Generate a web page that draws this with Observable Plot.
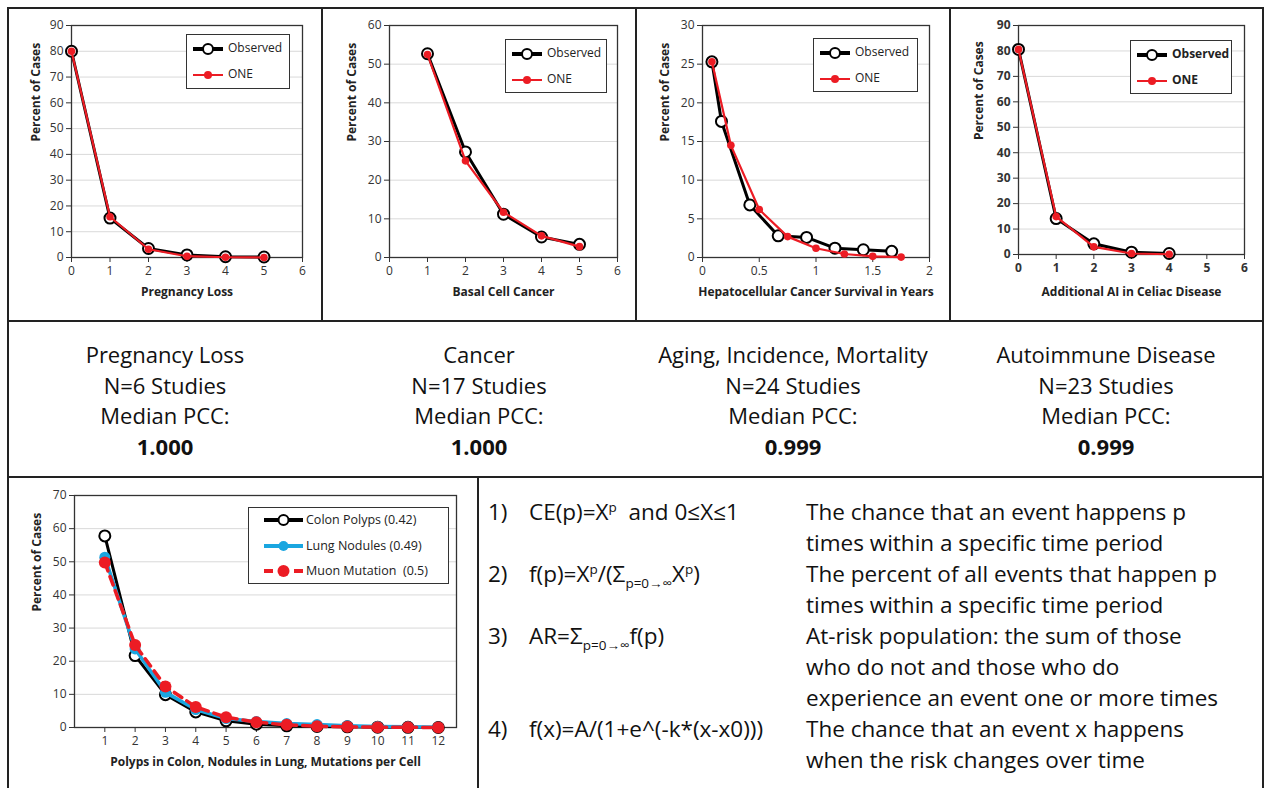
<!DOCTYPE html>
<html><head><meta charset="utf-8">
<script src="https://cdn.jsdelivr.net/npm/d3@7"></script>
<script src="https://cdn.jsdelivr.net/npm/@observablehq/plot@0.6"></script>
<style>
body{margin:0;background:#fff;}
#root{position:relative;width:1269px;height:788px;overflow:hidden;font-family:"Open Sans",sans-serif;color:#111;background:#fff;}
.leg{position:absolute;background:#fff;border:1.5px solid #333;box-sizing:border-box;}
.legrow{position:absolute;left:0;white-space:pre;color:#222;}
sup,sub{font-size:0.6em;line-height:0;}
</style></head><body><div id="root"></div>
<script>
// ---------- data ----------
const legendTopNames = ["Observed", "ONE"];
const pregX = [0, 1, 2, 3, 4, 5];
const pregObserved = [80, 15.3, 3.5, 1.0, 0.3, 0.2];
const pregONE = [80, 15.8, 3.2, 0.5, 0.1, 0.0];
const basalX = [1, 2, 3, 4, 5];
const basalObserved = [52.7, 27.3, 11.2, 5.3, 3.4];
const basalONE = [52.5, 25.0, 11.7, 5.6, 2.8];
const hccObsX = [0.083, 0.167, 0.417, 0.667, 0.917, 1.167, 1.417, 1.667];
const hccObserved = [25.3, 17.6, 6.8, 2.8, 2.6, 1.2, 1.0, 0.8];
const hccOneX = [0.083, 0.25, 0.5, 0.75, 1.0, 1.25, 1.5, 1.75];
const hccONE = [25.3, 14.5, 6.2, 2.7, 1.2, 0.45, 0.15, 0.05];
const celiacX = [0, 1, 2, 3, 4];
const celiacObserved = [80.6, 14.1, 4.2, 0.9, 0.4];
const celiacONE = [80.6, 14.9, 3.0, 0.4, 0.1];
const countX = [1, 2, 3, 4, 5, 6, 7, 8, 9, 10, 11, 12];
const colonPolyps = [57.8, 21.7, 9.9, 4.7, 2.0, 1.0, 0.5, 0.3, 0.2, 0.1, 0.05, 0.0];
const lungNodules = [51.4, 23.7, 10.6, 5.4, 2.7, 1.8, 1.2, 0.9, 0.5, 0.3, 0.2, 0.1];
const muonMutation = [49.8, 24.9, 12.4, 6.2, 3.1, 1.6, 0.8, 0.4, 0.2, 0.1, 0.05, 0.02];
const bottomSeriesNames = ["Colon Polyps (0.42)", "Lung Nodules (0.49)", "Muon Mutation  (0.5)"];
const topXLabels = ["Pregnancy Loss", "Basal Cell Cancer", "Hepatocellular Cancer Survival in Years", "Additional AI in Celiac Disease"];
const bottomXLabel = "Polyps in Colon, Nodules in Lung, Mutations per Cell";
const yLabel = "Percent of Cases";
const summaryTitles = ["Pregnancy Loss", "Cancer", "Aging, Incidence, Mortality", "Autoimmune Disease"];
const summaryN = ["N=6 Studies", "N=17 Studies", "N=24 Studies", "N=23 Studies"];
const summaryLabel = "Median PCC:";
const summaryPCC = ["1.000", "1.000", "0.999", "0.999"];
const formulaNums = ["1)", "2)", "3)", "4)"];
const formulas = [
  "CE(p)=X<sup>p</sup>&nbsp; and 0≤X≤1",
  "f(p)=X<sup>p</sup>/(Σ<sub>p=0→∞</sub>X<sup>p</sup>)",
  "AR=Σ<sub>p=0→∞</sub>f(p)",
  "f(x)=A/(1+e^(-k*(x-x0)))"
];
const descriptions = [
  ["The chance that an event happens p", "times within a specific time period"],
  ["The percent of all events that happen p", "times within a specific time period"],
  ["At-risk population: the sum of those", "who do not and those who do", "experience an event one or more times"],
  ["The chance that an event x happens", "when the risk changes over time"]
];

// ---------- helpers ----------
const RED = "#ec1c24", CYAN = "#1aa6e0";
const root = document.getElementById("root");
function addDiv(css, html) {
  const d = document.createElement("div");
  d.style.cssText = "position:absolute;" + css;
  if (html != null) d.innerHTML = html;
  root.appendChild(d);
  return d;
}
const pts = (xs, ys) => xs.map((x, i) => ({x, y: ys[i]}));

function chart(cfg) {
  const [bx, by, bw, bh] = cfg.box, [fl, ft, fr, fb] = cfg.frame;
  const fw = cfg.bold ? "bold" : "normal";
  const p = Plot.plot({
    width: bw, height: bh,
    marginLeft: fl - bx, marginRight: bx + bw - fr, marginTop: ft - by, marginBottom: by + bh - fb,
    style: {fontFamily: '"Open Sans", sans-serif', fontSize: "12px", color: "#333", background: "transparent", overflow: "visible"},
    x: {domain: cfg.xDomain},
    y: {domain: cfg.yDomain},
    marks: [
      Plot.gridY(cfg.yTicks, {stroke: "#d9d9d9", strokeOpacity: 1}),
      Plot.frame({stroke: "#333", strokeWidth: 1.3}),
      Plot.axisY(cfg.yTicks, {tickSize: 5, tickPadding: 3, label: null, stroke: "#333", fill: "#333", fontSize: 12, fontWeight: fw, tickFormat: d => String(d)}),
      Plot.axisX(cfg.xTicks, {tickSize: 5, tickPadding: 4, label: null, stroke: "#333", fill: "#333", fontSize: 12, fontWeight: fw, tickFormat: d => String(d)}),
      ...cfg.marks,
      Plot.text([yLabel], {text: d => d, frameAnchor: "left", dx: cfg.yLabelDx, rotate: -90, fontWeight: "bold", fontSize: 12, fill: "#222"}),
      Plot.text([cfg.xLabel], {text: d => d, frameAnchor: "bottom", dy: cfg.xLabelDy, fontWeight: "bold", fontSize: 12, fill: "#222"})
    ]
  });
  p.style.position = "absolute"; p.style.left = bx + "px"; p.style.top = by + "px";
  root.appendChild(p);
}

function obsOne(ox, oy, nx, ny) {
  const O = pts(ox, oy), N = pts(nx, ny);
  return [
    Plot.line(O, {x: "x", y: "y", stroke: "#000", strokeWidth: 3}),
    Plot.dot(O, {x: "x", y: "y", r: 5.5, stroke: "#000", strokeWidth: 2, fill: "#fff"}),
    Plot.line(N, {x: "x", y: "y", stroke: RED, strokeWidth: 2.2}),
    Plot.dot(N, {x: "x", y: "y", r: 3.8, fill: RED})
  ];
}

function sample(s) {
  const dash = s.dash ? ` stroke-dasharray="${s.dash}"` : "";
  return `<svg width="${s.w}" height="14" style="position:absolute;left:${s.x0}px;top:-7px;overflow:visible">
    <line x1="0" y1="7" x2="${s.w}" y2="7" stroke="${s.color}" stroke-width="${s.sw}"${dash}/>
    <circle cx="${s.w / 2}" cy="7" r="${s.r}" fill="${s.fill}" stroke="${s.stroke || "none"}" stroke-width="2"/></svg>`;
}

function legend(left, top, w, h, items, rows, x0, lw, tx, fontSize, bold) {
  const d = addDiv(`left:${left}px;top:${top}px;width:${w}px;height:${h}px;`);
  d.className = "leg";
  items.forEach((s, i) => {
    const r = document.createElement("div");
    r.className = "legrow";
    r.style.top = rows[i] + "px";
    r.innerHTML = sample({...s, x0, w: lw}) +
      `<span style="position:absolute;left:${tx}px;top:${-fontSize * 0.72}px;font-size:${fontSize}px;font-weight:${bold ? "bold" : "normal"};line-height:${fontSize * 1.4}px">${s.label}</span>`;
    d.appendChild(r);
  });
}

// ---------- top charts ----------
const ticks = (a, b, s) => d3.range(a, b + s / 2, s);
chart({box: [10, 10, 310, 308], frame: [71, 25, 302, 257], xDomain: [0, 6], xTicks: ticks(0, 6, 1), yDomain: [0, 90], yTicks: ticks(0, 90, 10),
  marks: obsOne(pregX, pregObserved, pregX, pregONE), xLabel: topXLabels[0], yLabelDx: -35, xLabelDy: 38});
chart({box: [324, 10, 310, 308], frame: [389, 25, 617, 257], xDomain: [0, 6], xTicks: ticks(0, 6, 1), yDomain: [0, 60], yTicks: ticks(0, 60, 10),
  marks: obsOne(basalX, basalObserved, basalX, basalONE), xLabel: topXLabels[1], yLabelDx: -37, xLabelDy: 38});
chart({box: [638, 10, 310, 308], frame: [702, 25, 929, 257], xDomain: [0, 2], xTicks: ticks(0, 2, 0.5), yDomain: [0, 30], yTicks: ticks(0, 30, 5),
  marks: obsOne(hccObsX, hccObserved, hccOneX, hccONE), xLabel: topXLabels[2], yLabelDx: -37, xLabelDy: 38});
chart({box: [952, 10, 309, 308], frame: [1018, 25, 1244, 254], xDomain: [0, 6], xTicks: ticks(0, 6, 1), yDomain: [0, 90], yTicks: ticks(0, 90, 10),
  marks: obsOne(celiacX, celiacObserved, celiacX, celiacONE), xLabel: topXLabels[3], yLabelDx: -39, xLabelDy: 41, bold: true});

const topItems = [
  {label: legendTopNames[0], color: "#000", sw: 4, r: 5, fill: "#fff", stroke: "#000"},
  {label: legendTopNames[1], color: RED, sw: 2, r: 4, fill: RED}
];
legend(186, 34, 104, 55, topItems, [14, 40], 6, 30, 41, 12, false);
legend(505, 39, 102, 54, topItems, [14, 40], 6, 30, 41, 12, false);
legend(813, 38, 105, 54, topItems, [14, 40], 6, 30, 41, 12, false);
legend(1130, 40, 102, 54, topItems, [14, 40], 6, 30, 41, 12, true);

// ---------- bottom chart ----------
const C = pts(countX, colonPolyps), L = pts(countX, lungNodules), M = pts(countX, muonMutation);
chart({box: [10, 480, 466, 306], frame: [74, 495, 456, 727], xDomain: [0, 12.6], xTicks: countX, yDomain: [0, 70], yTicks: ticks(0, 70, 10),
  marks: [
    Plot.line(C, {x: "x", y: "y", stroke: "#000", strokeWidth: 3}),
    Plot.dot(C, {x: "x", y: "y", r: 5.5, stroke: "#000", strokeWidth: 2, fill: "#fff"}),
    Plot.line(L, {x: "x", y: "y", stroke: CYAN, strokeWidth: 3.5}),
    Plot.dot(L, {x: "x", y: "y", r: 5.5, fill: CYAN}),
    Plot.line(M, {x: "x", y: "y", stroke: RED, strokeWidth: 3.5, strokeDasharray: "9,6"}),
    Plot.dot(M, {x: "x", y: "y", r: 6, fill: RED})
  ],
  xLabel: bottomXLabel, yLabelDx: -37, xLabelDy: 38});
legend(248, 507, 201, 77, [
  {label: bottomSeriesNames[0], color: "#000", sw: 4, r: 5, fill: "#fff", stroke: "#000"},
  {label: bottomSeriesNames[1], color: CYAN, sw: 4, r: 5, fill: CYAN},
  {label: bottomSeriesNames[2], color: RED, sw: 4, r: 6, fill: RED, dash: "9,6"}
], [12, 38, 63], 15, 39, 57, 12.5, false);

// ---------- summary row ----------
const colCenters = [165, 479, 793, 1106];
summaryTitles.forEach((t, i) => {
  addDiv(`left:${colCenters[i] - 157}px;top:339px;width:314px;text-align:center;font-size:22px;line-height:30.5px;color:#111;`,
    `${t}<br>${summaryN[i]}<br>${summaryLabel}<br><b>${summaryPCC[i]}</b>`);
});

// ---------- formulas ----------
let line = 0;
descriptions.forEach((lines, i) => {
  const top = 496 + line * 31;
  const css = `top:${top}px;font-size:22.5px;line-height:31px;white-space:nowrap;`;
  addDiv(`left:488px;` + css, formulaNums[i]);
  addDiv(`left:529px;` + css, formulas[i]);
  addDiv(`left:806px;` + css, lines.join("<br>"));
  line += lines.length;
});

// ---------- panel borders ----------
const B = "#222";
[
  [8, 7, 1256, 2], [8, 320, 1256, 2], [8, 476, 1256, 2],
  [7, 7, 2, 781], [1262, 7, 2, 781],
  [321, 7, 2, 314], [635, 7, 2, 314], [949, 7, 2, 314], [477, 476, 2, 312]
].forEach(([l, t, w, h]) => addDiv(`left:${l}px;top:${t}px;width:${w}px;height:${h}px;background:${B};`));
</script>
</body></html>
